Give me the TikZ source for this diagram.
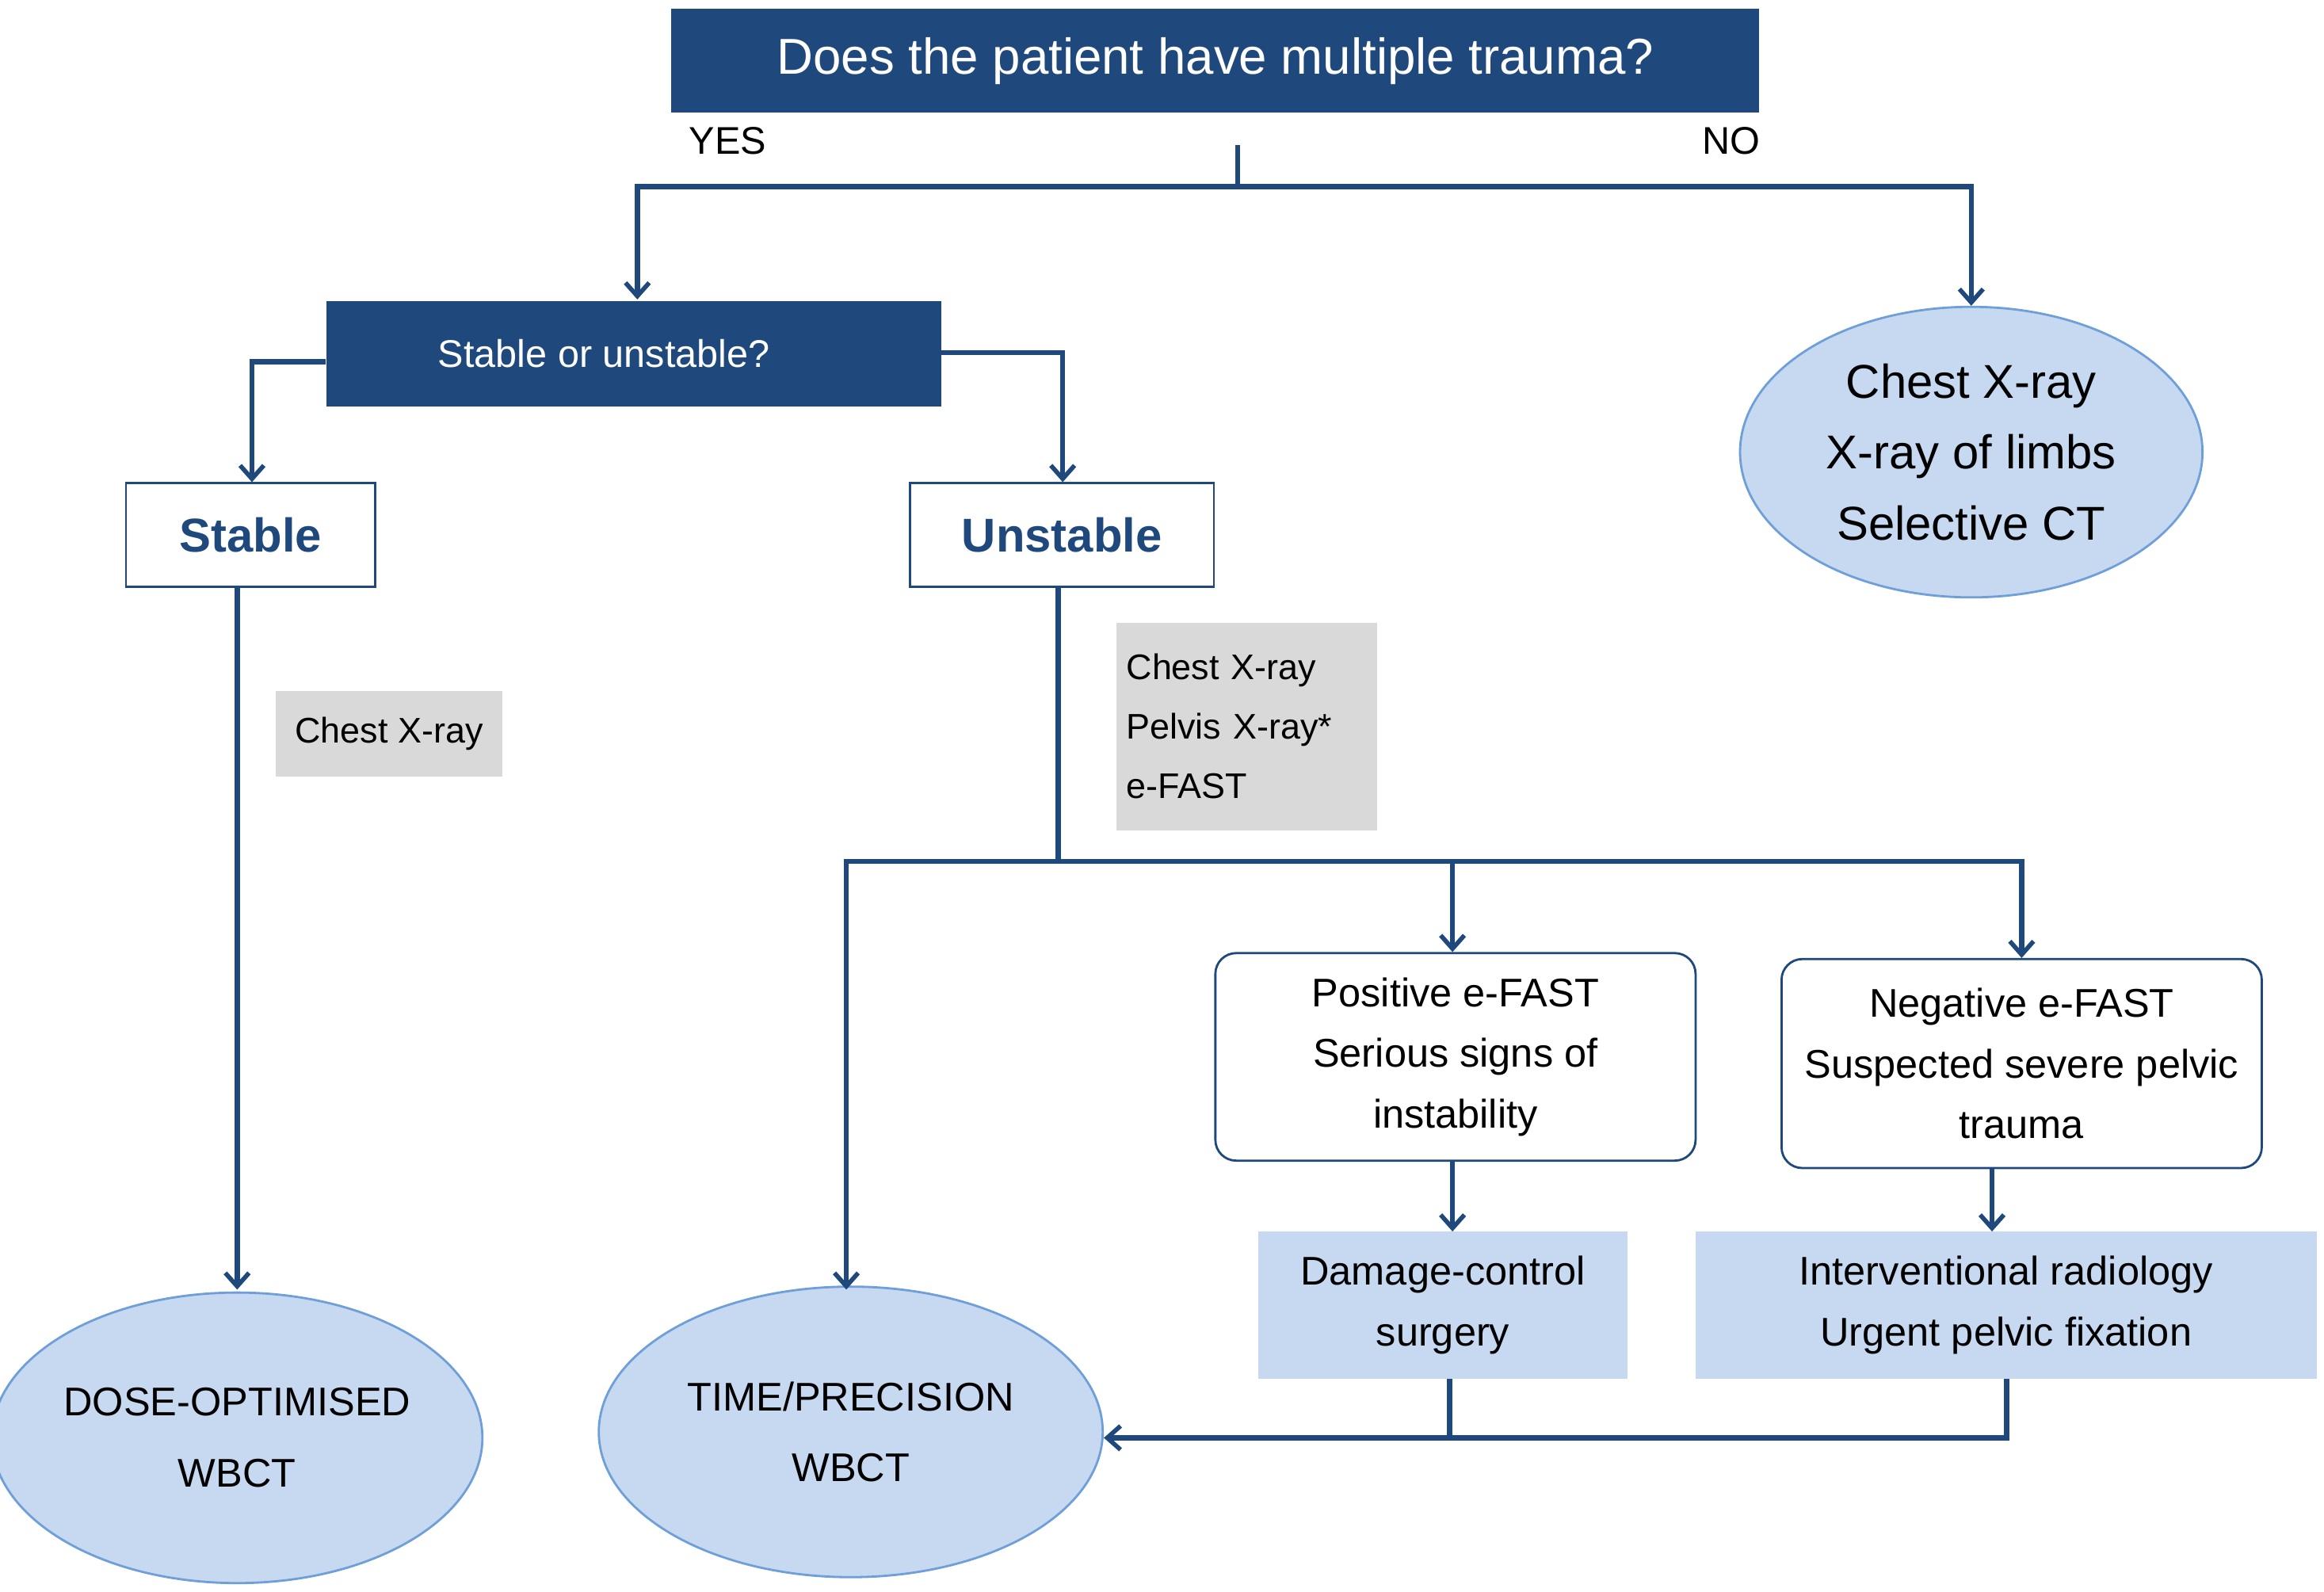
\documentclass[tikz,border=0pt]{standalone}
\usepackage{fontspec}
\setmainfont{Liberation Sans}
\usetikzlibrary{arrows.meta,shapes.geometric}
\definecolor{dblue}{HTML}{1F497D}
\definecolor{lblue}{HTML}{C6D9F1}
\definecolor{eborder}{HTML}{6F9FD8}
\definecolor{gbox}{HTML}{D9D9D9}
\begin{document}
\begin{tikzpicture}[x=1pt,y=-1pt,
  conn/.style={draw=dblue,line width=3.5pt},
  arr/.style={conn,-{Straight Barb[length=9pt,width=16pt,line width=3pt]}},
  darkbox/.style={fill=dblue,text=white,inner sep=0pt},
  whitebox/.style={draw=dblue,line width=1.5pt,fill=white,text=dblue,font=\fontsize{32}{38}\selectfont\bfseries,inner sep=0pt},
  ell/.style={ellipse,fill=lblue,draw=eborder,line width=1.5pt,inner sep=0pt,align=center},
  graybox/.style={fill=gbox,inner sep=0pt,align=left,font=\fontsize{24}{40}\selectfont},
  rbox/.style={draw=dblue,line width=1.5pt,rounded corners=14pt,align=center,inner sep=0pt,font=\fontsize{27}{41}\selectfont},
  lbox/.style={fill=lblue,inner sep=0pt,align=center,font=\fontsize{27}{41}\selectfont}]
\useasboundingbox (0,0) rectangle (1568,1074);
\node[darkbox,minimum width=734pt,minimum height=70pt,font=\fontsize{34}{40}\selectfont] (q1) at (820,41) {Does the patient have multiple trauma?};
\node[font=\fontsize{26}{30}\selectfont] (yes) at (491,95) {YES};
\node[font=\fontsize{26}{30}\selectfont] (no) at (1168,95) {NO};
\coordinate (top) at (835,98);
\coordinate (j1) at (835,126);
\node[darkbox,minimum width=415pt,minimum height=71pt,font=\fontsize{26}{30}\selectfont] (q2) at (427.5,238.5) {\hspace*{-40pt}Stable or unstable?};
\node[ell,minimum width=312pt,minimum height=196pt,font=\fontsize{32}{48}\selectfont] (e1) at (1330,305) {Chest X-ray\\X-ray of limbs\\Selective CT};
\node[whitebox,minimum width=168pt,minimum height=70pt] (st) at (169,361) {Stable};
\node[whitebox,minimum width=205pt,minimum height=70pt] (un) at (716.5,361) {Unstable};
\node[graybox,minimum width=153pt,minimum height=58pt,align=center] (g1) at (262.5,495) {Chest X-ray};
\node[graybox,minimum width=176pt,minimum height=140pt,text width=162pt] (g2) at (841,490) {Chest X-ray\\Pelvis X-ray*\\e-FAST};
\node[rbox,minimum width=324pt,minimum height=140pt] (pos) at (982,713) {Positive e-FAST\\Serious signs of\\instability};
\node[rbox,minimum width=324pt,minimum height=141pt] (neg) at (1364,717.5) {Negative e-FAST\\Suspected severe pelvic\\trauma};
\node[lbox,minimum width=249pt,minimum height=99pt] (dc) at (973.5,880.5) {Damage-control\\surgery};
\node[lbox,minimum width=419pt,minimum height=99pt] (ir) at (1353.5,880.5) {Interventional radiology\\Urgent pelvic fixation};
\node[ell,minimum width=310pt,minimum height=196pt,font=\fontsize{27}{48}\selectfont] (e2) at (160,970) {DOSE-OPTIMISED\\WBCT};
\node[ell,minimum width=340pt,minimum height=196pt,font=\fontsize{27}{48}\selectfont] (e3) at (574,966) {TIME/PRECISION\\WBCT};
% connectors
\draw[conn] (top) -- (j1);
\draw[arr] (j1) -| (430,202);
\draw[arr] (j1) -| (e1.north);
\draw[arr] (q2.west |- 0,244) -| (st.north -| 170,0);
\draw[arr] (q2.east |- 0,238) -| (un.north -| 717,0);
\draw[arr] (st.south -| 160,0) -- (160,870);
\coordinate (j2) at (714,581);
\draw[conn] (un.south -| 714,0) -- (j2);
\draw[arr] (j2) -| (571,870);
\draw[arr] (j2) -| (pos.north -| 980,0);
\draw[arr] (j2) -| (neg.north);
\draw[arr] (pos.south -| 980,0) -- (dc.north -| 980,0);
\draw[arr] (neg.south -| 1344,0) -- (ir.north -| 1344,0);
\coordinate (j3) at (978,970);
\draw[conn] (dc.south -| 978,0) -- (j3);
\draw[arr] (ir.south -| 1354,0) |- (e3.east |- 0,970);
\end{tikzpicture}
\end{document}
